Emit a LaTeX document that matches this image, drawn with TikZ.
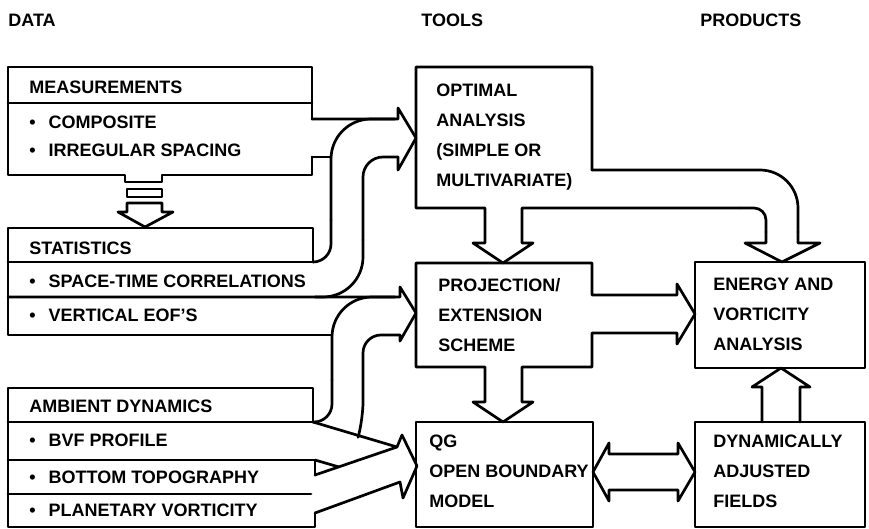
\documentclass[tikz,border=0pt]{standalone}
\usepackage{fontspec}
\setmainfont{Liberation Sans}
\tikzset{>=latex}
\newcommand{\itm}{\textbullet\hspace{13pt}}

\begin{document}
\begin{tikzpicture}[x=1pt,y=-1pt,line width=2.7pt,line cap=round,line join=round,
    txt/.style={anchor=west,inner sep=0pt,font=\bfseries\fontsize{18}{30}\selectfont},
    blk/.style={txt,anchor=north west,align=left},
    head/.style={txt,font=\bfseries\fontsize{18}{20}\selectfont}]
  \useasboundingbox (0,0) rectangle (869,529);
  % column heads
  \node[head] (data) at (7,20) {DATA};
  \node[head] (tools) at (420,20) {TOOLS};
  \node[head] (products) at (699,20) {PRODUCTS};
  % data boxes
  \node[txt] (meas) at (28,87) {MEASUREMENTS};
  \node[txt] (comp) at (28,122) {\itm COMPOSITE};
  \node[txt] (irreg) at (28,150) {\itm IRREGULAR SPACING};
  \node[txt] (stat) at (28,248) {STATISTICS};
  \node[txt] (corr) at (28,281) {\itm SPACE-TIME CORRELATIONS};
  \node[txt] (eof) at (28,315) {\itm VERTICAL EOF'S};
  \node[txt] (amb) at (28,406) {AMBIENT DYNAMICS};
  \node[txt] (bvf) at (28,440) {\itm BVF PROFILE};
  \node[txt] (topo) at (28,477) {\itm BOTTOM TOPOGRAPHY};
  \node[txt] (plan) at (28,510) {\itm PLANETARY VORTICITY};
  % tools and products
  \node[blk] (optimal) at (435,83) {OPTIMAL\\ANALYSIS\\(SIMPLE OR\\MULTIVARIATE)};
  \node[blk] (proj) at (437,277) {PROJECTION/\\EXTENSION\\SCHEME};
  \node[blk] (qg) at (428,434) {QG\\OPEN BOUNDARY\\MODEL};
  \node[blk] (energy) at (712,277) {ENERGY AND\\VORTICITY\\ANALYSIS};
  \node[blk] (dyn) at (712,434) {DYNAMICALLY\\ADJUSTED\\FIELDS};

  % measurements
  \draw (312,119) -- (312,67) -- (8,67) -- (8,175) -- (125,175) -- (125,182) -- (162,182) -- (162,175) -- (312,175) -- (312,157);
  \draw (8,103) -- (312,103);
  \draw (127,189) rectangle (162,197);
  \draw (127,203) -- (162,203) -- (162,212) -- (173,212) -- (145,227) -- (118,212) -- (127,212) -- cycle;
  % statistics
  \draw (332,335) -- (8,335) -- (8,228) -- (313,228) -- (313,262);
  \draw (8,262) -- (313,262);
  % ambient dynamics
  \draw (313,422) -- (313,388) -- (8,388) -- (8,527) -- (315,527) -- (315,513);
  \draw (8,422) -- (313,422);
  \draw (8,460) -- (315,460) -- (315,475);
  \draw (8,494) -- (311,494);

  % into optimal analysis
  \draw (312,119) -- (398,119) -- (398,108) -- (416,138) -- (398,170) -- (398,157);
  \draw (312,157) -- (331,157);
  \draw[rounded corners=18pt] (313,262) -- (331,262) -- (331,220);
  \draw[rounded corners=40pt] (331,220) -- (331,119) -- (395,119);
  \draw[rounded corners=20pt] (398,157) -- (363,157) -- (363,240);
  \draw[rounded corners=40pt] (363,240) -- (363,297) -- (315,297);
  % into projection
  \draw (8,297) -- (400,297) -- (400,287) -- (416,313) -- (400,341) -- (400,335);
  \draw[rounded corners=18pt] (313,422) -- (332,422) -- (332,380);
  \draw[rounded corners=40pt] (332,380) -- (332,297) -- (395,297);
  \draw[rounded corners=18pt] (400,335) -- (363,335) -- (363,420) -- (359,434);
  % into qg model
  \draw (313,422) -- (397,447) -- (402,435) -- (417,466) -- (403,498) -- (400,482) -- (315,513);
  \draw (315,475) -- (397,447);
  \draw (315,460) -- (339,467);

  % optimal analysis
  \draw (592,170) -- (592,67) -- (416,67) -- (416,208) -- (485,208) -- (485,243) -- (473,243) -- (503,263) -- (533,243) -- (522,243) -- (522,208) -- (740,208);
  \draw[rounded corners=12pt] (740,208) -- (766,208) -- (766,232);
  \draw (766,232) -- (766,243) -- (745,243) -- (782,262) -- (820,243) -- (798,243) -- (798,232);
  \draw[rounded corners=38pt] (798,232) -- (798,170) -- (592,170);
  % projection scheme
  \draw (592,295) -- (592,263) -- (416,263) -- (416,367) -- (485,367) -- (485,402) -- (473,402) -- (503,422) -- (533,402) -- (522,402) -- (522,367) -- (592,367) -- (592,333) -- (677,333) -- (677,344) -- (695,314) -- (677,284) -- (677,295) -- cycle;
  % qg model and products
  \draw (416,422) rectangle (593,527);
  \draw (695,262) rectangle (865,368);
  \draw (695,422) rectangle (865,527);
  \draw (609,454) -- (678,454) -- (678,443) -- (695,472) -- (678,501) -- (678,490) -- (609,490) -- (609,501) -- (593,472) -- (609,443) -- cycle;
  \draw (762,422) -- (762,387) -- (752,387) -- (781,368) -- (810,387) -- (800,387) -- (800,422);
\end{tikzpicture}
\end{document}
